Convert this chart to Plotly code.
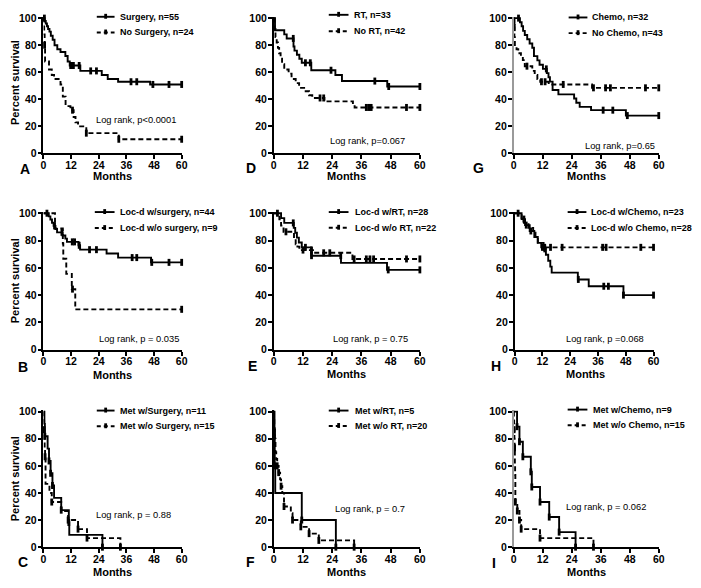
import plotly.graph_objects as go

W, H = 701, 588

# ---------------- data (months, percent survival) ----------------
# Panel A
A_surg_t = [0.5, 1.0, 1.5, 2.0, 2.6, 3.2, 4.0, 4.8, 6.0, 7.4, 9.5, 10.5, 11.4, 16.0, 25.3, 27.9, 32.4, 46.3]
A_surg_s = [98, 96, 94, 92, 90, 87, 84, 80, 77, 75, 72, 68, 65, 61, 58, 55, 53, 51]
A_surg_m = [0.4, 11.8, 13.0, 15.5, 20.5, 23.0, 38.0, 40.5, 47.5, 54.5, 60]
A_nosurg_t = [0.3, 0.5, 0.7, 2.4, 3.6, 4.6, 7.4, 8.4, 9.6, 11.7, 13.1, 13.9, 15.0, 18.6, 32.7]
A_nosurg_s = [88, 80, 68, 62, 58, 55, 51, 42, 35, 32, 27, 23, 20, 15, 10.5]
A_nosurg_m = [0.5, 12.6, 18.6, 32.7, 60]
# Panel D
D_rt_t = [0.5, 4.3, 5.3, 8.1, 8.5, 9.5, 10.5, 11.5, 15.4, 25.3, 28.0, 46.6]
D_rt_s = [91, 88, 85, 79, 76, 73, 70, 67, 61.5, 58, 53.5, 49.5]
D_rt_m = [8.0, 13.0, 15.0, 23.5, 41.5, 47.2, 60]
D_nort_t = [0.3, 0.7, 1.2, 1.7, 2.2, 2.8, 3.4, 4.3, 6.1, 7.3, 9.0, 10.4, 13.1, 14.5, 15.8, 20.8, 32.5, 33.2]
D_nort_s = [92, 86, 82, 78, 74, 70, 66, 62, 59, 55, 52, 48.5, 46, 43, 41, 38.5, 36, 34]
D_nort_m = [19.0, 20.5, 38.0, 39.0, 40.0, 54.5, 60]
# Panel G
G_chemo_t = [2.6, 3.3, 3.9, 4.6, 5.6, 6.6, 7.7, 8.4, 9.8, 10.7, 12.1, 13.7, 14.4, 15.0, 16.1, 18.5, 25.0, 25.9, 27.3, 32.0, 46.4]
G_chemo_s = [97, 94, 90.6, 87.5, 84.4, 81.3, 78.1, 71.9, 68.8, 65.6, 62.5, 59.4, 56.3, 53.1, 46.9, 43.7, 40.6, 37.5, 34.4, 32, 28]
G_chemo_m = [2.0, 13.5, 37.0, 41.0, 47.0, 60]
G_nochemo_t = [0.1, 0.2, 0.3, 0.5, 1.2, 1.9, 3.0, 3.8, 4.6, 7.7, 8.7, 9.8, 11.0, 14.5, 32.4]
G_nochemo_s = [97.7, 93, 86, 79, 77, 74, 72, 69, 64.5, 61, 58, 55, 53, 51, 48.5]
G_nochemo_m = [0.15, 0.25, 5.5, 11.5, 13.0, 20.5, 33.0, 38.0, 40.0, 54.5, 60]
# Panel B
B_surg_t = [2.3, 3.0, 3.7, 4.4, 5.2, 5.9, 8.3, 9.5, 10.2, 15.2, 15.9, 27.4, 32.4, 46.7]
B_surg_s = [97.7, 95.4, 93, 90.7, 88.4, 86, 83.7, 81.4, 79, 76.5, 73.3, 70.5, 67.5, 64]
B_surg_m = [1.5, 4.8, 8.0, 12.5, 13.5, 15.5, 20.0, 23.0, 38.5, 40.5, 47.0, 54.5, 60]
B_nosurg_t = [5.0, 8.4, 8.6, 9.9, 12.3, 13.8]
B_nosurg_s = [88.9, 77.8, 66.7, 55.6, 44.4, 29.6]
B_nosurg_m = [12.6, 60]
# Panel E
E_rt_t = [3.0, 4.3, 8.2, 8.8, 9.5, 10.3, 11.5, 15.4, 27.6, 46.5]
E_rt_s = [96.4, 92.9, 89.3, 85.7, 82.1, 78.6, 75, 68.9, 63.6, 58.5]
E_rt_m = [1.5, 8.0, 13.0, 15.5, 27.5, 47.0, 60]
E_nort_t = [2.3, 3.0, 4.0, 8.3, 9.0, 9.7, 10.5, 16.5, 32.3]
E_nort_s = [95.5, 90.9, 86.4, 81.8, 77.3, 75.5, 73, 71, 66.5]
E_nort_m = [5.0, 12.0, 15.5, 20.5, 23.0, 33.0, 38.0, 39.5, 41.0, 54.5, 60]
# Panel H
H_chemo_t = [3.0, 4.5, 6.5, 8.5, 10.0, 12.5, 13.5, 14.5, 15.4, 16.0, 27.3, 32.0, 47.0]
H_chemo_s = [95.7, 91.3, 87, 82.6, 78.3, 73.9, 69.6, 65.2, 60.9, 56.5, 51.5, 46.5, 40]
H_chemo_m = [1.5, 4.0, 5.0, 7.0, 13.0, 27.5, 38.5, 40.5, 47.0, 60]
H_nochemo_t = [3.0, 4.0, 6.0, 8.0, 9.0, 10.0, 11.5]
H_nochemo_s = [96.4, 92.9, 89.3, 85.7, 82.1, 78.6, 75]
H_nochemo_m = [12.0, 13.0, 15.5, 20.5, 38.0, 39.5, 54.5, 60]
# Panel C
C_surg_t = [0.4, 0.6, 1.8, 2.4, 3.1, 3.9, 4.6, 7.7, 11.0, 11.2, 25.6]
C_surg_s = [90.9, 81.8, 72.7, 63.6, 54.5, 45.5, 36.4, 27.3, 18.2, 9.1, 0]
C_surg_m = [0.6, 2.4, 3.1, 3.9, 7.7, 11.0, 25.6]
C_nosurg_t = [0.2, 0.3, 0.4, 0.5, 0.7, 0.9, 2.6, 3.6, 7.7, 10.7, 15.0, 18.9, 33.4]
C_nosurg_s = [93.3, 86.7, 80, 73.3, 66.7, 46.7, 40, 33.3, 26.7, 20, 13.3, 6.7, 0]
C_nosurg_m = [0.3, 0.7, 3.6, 10.7, 15.0, 18.9, 33.4]
# Panel F
F_rt_t = [0.3, 0.4, 0.6, 11.5, 25.5]
F_rt_s = [80, 60, 40, 20, 0]
F_rt_m = [0.4, 11.5, 25.5]
F_nort_t = [0.1, 0.2, 0.3, 0.5, 0.7, 1.0, 1.4, 2.0, 2.6, 3.0, 3.5, 4.2, 7.0, 7.7, 11.1, 14.5, 18.5, 33.0]
F_nort_s = [95, 90, 85, 80, 70, 65, 60, 55, 50, 45, 40, 30, 25, 20, 15, 10, 5, 0]
F_nort_m = [0.3, 1.4, 2.0, 3.0, 4.2, 7.7, 11.1, 14.5, 18.5, 33.0]
# Panel I
I_chemo_t = [1.4, 2.4, 3.8, 7.1, 7.5, 10.9, 14.7, 18.8, 25.6]
I_chemo_s = [88.9, 77.8, 66.7, 55.6, 44.4, 33.3, 22.2, 11.1, 0]
I_chemo_m = [1.4, 2.4, 3.8, 7.1, 7.5, 10.9, 14.7, 18.8, 25.6]
I_nochemo_t = [0.1, 0.2, 0.3, 0.4, 0.5, 0.6, 0.7, 1.5, 2.4, 3.1, 10.9, 33.0]
I_nochemo_s = [93.3, 86.7, 80, 73.3, 60, 53.3, 33.3, 26.7, 20, 13.3, 6.7, 0]
I_nochemo_m = [0.2, 0.4, 0.7, 1.5, 2.4, 3.1, 10.9, 33.0]

x_ticks = [0, 12, 24, 36, 48, 60]
y_ticks = [0, 20, 40, 60, 80, 100]

panels = [
    ("A", 0, 0, (A_surg_t, A_surg_s, A_surg_m), (A_nosurg_t, A_nosurg_s, A_nosurg_m),
     ("Surgery, n=55", "No Surgery, n=24"), "Log rank, p<0.0001"),
    ("D", 1, 0, (D_rt_t, D_rt_s, D_rt_m), (D_nort_t, D_nort_s, D_nort_m),
     ("RT, n=33", "No RT, n=42"), "Log rank, p=0.067"),
    ("G", 2, 0, (G_chemo_t, G_chemo_s, G_chemo_m), (G_nochemo_t, G_nochemo_s, G_nochemo_m),
     ("Chemo, n=32", "No Chemo, n=43"), "Log rank, p=0.65"),
    ("B", 0, 1, (B_surg_t, B_surg_s, B_surg_m), (B_nosurg_t, B_nosurg_s, B_nosurg_m),
     ("Loc-d w/surgery, n=44", "Loc-d w/o surgery, n=9"), "Log rank, p = 0.035"),
    ("E", 1, 1, (E_rt_t, E_rt_s, E_rt_m), (E_nort_t, E_nort_s, E_nort_m),
     ("Loc-d w/RT, n=28", "Loc-d w/o RT, n=22"), "Log rank, p = 0.75"),
    ("H", 2, 1, (H_chemo_t, H_chemo_s, H_chemo_m), (H_nochemo_t, H_nochemo_s, H_nochemo_m),
     ("Loc-d w/Chemo, n=23", "Loc-d w/o Chemo, n=28"), "Log rank, p =0.068"),
    ("C", 0, 2, (C_surg_t, C_surg_s, C_surg_m), (C_nosurg_t, C_nosurg_s, C_nosurg_m),
     ("Met w/Surgery, n=11", "Met w/o Surgery, n=15"), "Log rank, p = 0.88"),
    ("F", 1, 2, (F_rt_t, F_rt_s, F_rt_m), (F_nort_t, F_nort_s, F_nort_m),
     ("Met w/RT, n=5", "Met w/o RT, n=20"), "Log rank, p = 0.7"),
    ("I", 2, 2, (I_chemo_t, I_chemo_s, I_chemo_m), (I_nochemo_t, I_nochemo_s, I_nochemo_m),
     ("Met w/Chemo, n=9", "Met w/o Chemo, n=15"), "Log rank, p = 0.062"),
]

# ---------------- layout geometry (pixels) ----------------
col_px = [(41, 181), (274.3, 422.3), (517.3, 664.3)]
row_px = [(12, 151.3), (210.8, 351.3), (413, 552.5)]
special_px = {"H": (518.3, 659)}
gray_yaxis = {"G", "I"}
letter_pos = {"A": (22.7, 167), "D": (251.7, 166), "G": (482, 166),
              "B": (20.7, 369), "E": (252.7, 368), "H": (499, 368),
              "C": (20, 568), "F": (251, 567.7), "I": (497, 569)}
months_pos = {"A": (111, 174), "D": (347.7, 174), "G": (590.7, 174),
              "B": (111, 376.7), "E": (347.7, 376), "H": (590, 376),
              "C": (111, 577.7), "F": (347.7, 577.3), "I": (590.7, 577.7)}
legend_pos = {"A": (95, 113, 116.7, 12, 28), "D": (330, 350, 354, 10, 26.7),
              "G": (573, 592, 594.3, 12.7, 28.7), "B": (93, 113, 116.7, 211, 227.3),
              "E": (330, 350, 355, 211, 227), "H": (572, 591, 593.3, 211, 227.3),
              "C": (95, 113, 116.7, 413.3, 429.3), "F": (330, 350, 355, 413.3, 429),
              "I": (572, 592, 595.7, 412.3, 428.3)}
logrank_pos = {"A": (92.3, 116.7), "D": (329.3, 138.3), "G": (587.7, 143.3),
               "B": (95.7, 340.7), "E": (332.7, 340.7), "H": (568.3, 340.7),
               "C": (92.3, 520), "F": (334.3, 513.3), "I": (568.3, 511.7)}
ylabel_pos = [(11.7, 79), (11.7, 281), (11.7, 482.7)]


def px(x):
    return x / W


def py(y):
    return 1 - y / H


def step_xy(t, s):
    x = [0] + list(t)
    y = [100] + list(s)
    if s[-1] > 0:
        x.append(60)
        y.append(s[-1])
    return x, y


def surv_at(t, s, tm):
    v = 100
    for ti, si in zip(t, s):
        if ti <= tm:
            v = si
    return v


FONT = "Liberation Sans, Arial, sans-serif"
fig = go.Figure()
layout = dict(width=W, height=H, margin=dict(l=0, r=0, t=0, b=0),
              paper_bgcolor="white", plot_bgcolor="white", showlegend=False,
              font=dict(family=FONT, color="black"))
annotations = []
shapes = []

for i, (letter, col, row, solid, dashed, labels, lr) in enumerate(panels):
    k = i + 1
    xa = "x" if k == 1 else f"x{k}"
    ya = "y" if k == 1 else f"y{k}"
    x0, x1 = special_px.get(letter, col_px[col])
    y0, y1 = row_px[row]
    axcommon = dict(ticks="outside", ticklen=4, tickwidth=1.6, tickcolor="black",
                    showgrid=False, showline=True, linewidth=1.6,
                    zeroline=False, tickfont=dict(size=10.5, family=FONT, weight="bold"))
    layout["xaxis" if k == 1 else f"xaxis{k}"] = dict(
        domain=[px(x0), px(x1)], range=[0, 60], tickvals=x_ticks,
        anchor=ya, linecolor="black", ticklabelstandoff=-3, **axcommon)
    layout["yaxis" if k == 1 else f"yaxis{k}"] = dict(
        domain=[py(y1), py(y0)], range=[0, 101], tickvals=y_ticks,
        anchor=xa, linecolor="#9a9a9a" if letter in gray_yaxis else "black",
        ticklabelstandoff=-1, **axcommon)

    for (t, s, m), dash in ((solid, "solid"), (dashed, "5px,3px")):
        xs, ys = step_xy(t, s)
        fig.add_trace(go.Scatter(x=xs, y=ys, mode="lines", line_shape="hv",
                                 line=dict(color="black", width=1.9, dash=dash),
                                 xaxis=xa, yaxis=ya, hoverinfo="skip"))
        fig.add_trace(go.Scatter(x=m, y=[surv_at(t, s, v) for v in m], mode="markers",
                                 marker=dict(symbol="line-ns", size=5,
                                             line=dict(color="black", width=2.8)),
                                 cliponaxis=False, xaxis=xa, yaxis=ya, hoverinfo="skip"))

    # legend
    lx0, lx1, tx, ly1, ly2 = legend_pos[letter]
    for ly, dash, lab in ((ly1, "solid", labels[0]), (ly2, "dash", labels[1])):
        shapes.append(dict(type="line", xref="paper", yref="paper",
                           x0=px(lx0), x1=px(lx1), y0=py(ly), y1=py(ly),
                           line=dict(color="black", width=1.9,
                                     dash="solid" if dash == "solid" else "4px,3px")))
        mx = (lx0 + lx1) / 2
        shapes.append(dict(type="line", xref="paper", yref="paper",
                           x0=px(mx), x1=px(mx), y0=py(ly - 3), y1=py(ly + 2),
                           line=dict(color="black", width=2.8)))
        annotations.append(dict(x=px(tx), y=py(ly), xref="paper", yref="paper",
                                text=lab, showarrow=False, xanchor="left", yanchor="middle",
                                font=dict(size=9, family=FONT, color="black", weight="bold")))
    # log rank
    lxp, lyp = logrank_pos[letter]
    annotations.append(dict(x=px(lxp), y=py(lyp), xref="paper", yref="paper",
                            text=lr, showarrow=False, xanchor="left", yanchor="middle",
                            font=dict(size=9.3, family=FONT, color="black")))
    # panel letter
    lpx, lpy = letter_pos[letter]
    annotations.append(dict(x=px(lpx), y=py(lpy), xref="paper", yref="paper",
                            text=letter, showarrow=False, xanchor="center", yanchor="middle",
                            font=dict(size=14, family=FONT, color="black", weight="bold")))
    # Months title
    mpx, mpy = months_pos[letter]
    annotations.append(dict(x=px(mpx), y=py(mpy), xref="paper", yref="paper",
                            text="Months", showarrow=False, xanchor="center", yanchor="middle",
                            font=dict(size=11, family=FONT, color="black", weight="bold")))

for (yx, yy) in ylabel_pos:
    annotations.append(dict(x=px(yx), y=py(yy), xref="paper", yref="paper",
                            text="Percent survival", showarrow=False, textangle=-90,
                            xanchor="center", yanchor="middle",
                            font=dict(size=11, family=FONT, color="black", weight="bold")))

layout["annotations"] = annotations
layout["shapes"] = shapes
fig.update_layout(**layout)
fig.write_html("out.html", config={"displayModeBar": False},
               post_script="document.body.style.margin='0';document.body.style.overflow='hidden';")
